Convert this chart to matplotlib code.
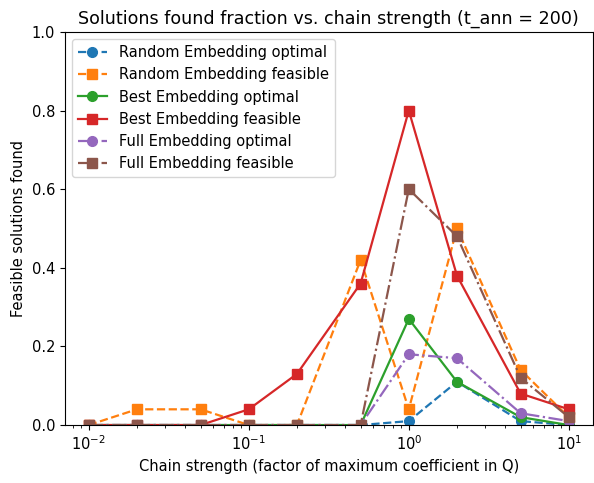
import numpy as np
import matplotlib.pyplot as plt

chain = np.array([0.01, 0.02, 0.05, 0.1, 0.2, 0.5, 1, 2, 5, 10])

random_opt = np.array([0, 0, 0, 0, 0, 0, 0.01, 0.11, 0.01, 0.0])
random_feas = np.array([0, 0.04, 0.04, 0, 0, 0.42, 0.04, 0.50, 0.14, 0.02])
best_opt = np.array([0, 0, 0, 0, 0, 0, 0.27, 0.11, 0.02, 0.0])
best_feas = np.array([0, 0, 0, 0.04, 0.13, 0.36, 0.80, 0.38, 0.08, 0.04])
full_opt = np.array([0, 0, 0, 0, 0, 0, 0.18, 0.17, 0.03, 0.01])
full_feas = np.array([0, 0, 0, 0, 0, 0, 0.60, 0.48, 0.12, 0.02])

plt.rcParams["font.size"] = 10.5
plt.rcParams["lines.linewidth"] = 1.6
plt.rcParams["lines.markersize"] = 7

fig = plt.figure(figsize=(5.94, 4.83), dpi=100)
ax = fig.add_axes([0.109, 0.120, 0.889, 0.814])

ax.plot(chain, random_opt, "o--", color="C0", label="Random Embedding optimal")
ax.plot(chain, random_feas, "s--", color="C1", label="Random Embedding feasible")
ax.plot(chain, best_opt, "o-", color="C2", label="Best Embedding optimal")
ax.plot(chain, best_feas, "s-", color="C3", label="Best Embedding feasible")
ax.plot(chain, full_opt, "o-.", color="C4", label="Full Embedding optimal")
ax.plot(chain, full_feas, "s-.", color="C5", label="Full Embedding feasible")

ax.set_xscale("log")
ax.set_ylim(0, 1.0)
ax.set_xlabel("Chain strength (factor of maximum coefficient in Q)")
ax.set_ylabel("Feasible solutions found")
ax.set_title("Solutions found fraction vs. chain strength (t_ann = 200)", fontsize=12.6)
ax.legend(loc="upper left")

fig.savefig("out.png", dpi=100)
